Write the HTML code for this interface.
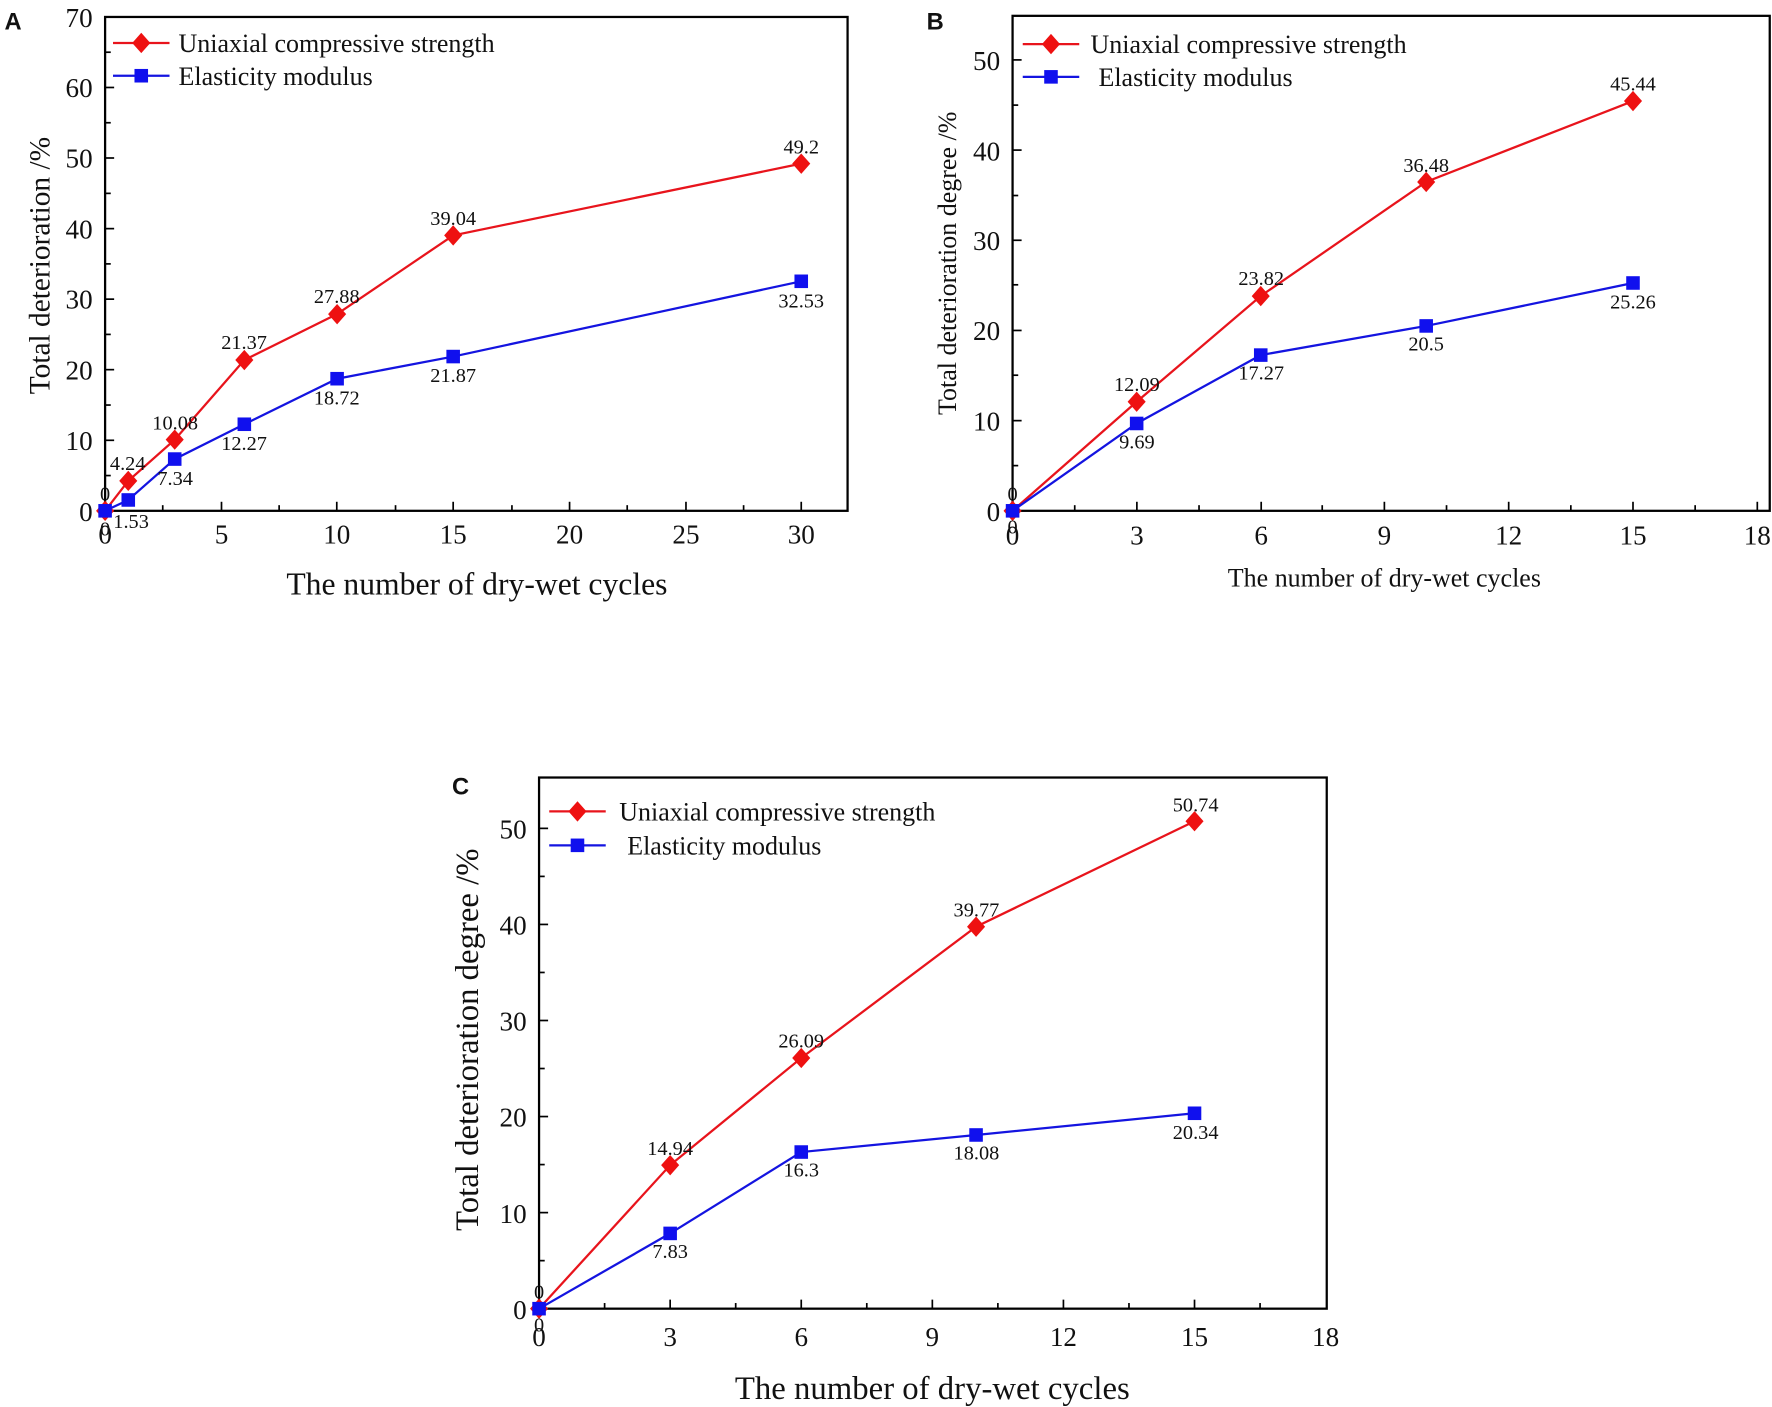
<!DOCTYPE html>
<html><head><meta charset="utf-8"><style>
html,body{margin:0;padding:0;background:#fff;}
svg{display:block;}
text{font-family:"Liberation Serif",serif;fill:#111;}
.l{font-size:18px;text-anchor:middle;}
.ty{font-size:24px;text-anchor:end;}
.tx{font-size:24px;text-anchor:middle;}
.lg{font-size:23px;}
.p{font-family:"Liberation Sans",sans-serif;font-weight:bold;font-size:21px;}
</style></head><body>
<svg width="1772" height="1407" viewBox="0 0 1568 1245" xmlns="http://www.w3.org/2000/svg">
<rect width="1568" height="1245" fill="#fff"/>

<!-- ============ A ============ -->
<text class="p" x="4" y="26">A</text>
<rect x="93" y="15" width="657" height="437" fill="none" stroke="#000" stroke-width="2"/>
<g stroke="#000" stroke-width="1.5">
<line x1="196" y1="452" x2="196" y2="444"/><line x1="298" y1="452" x2="298" y2="444"/><line x1="401" y1="452" x2="401" y2="444"/><line x1="504" y1="452" x2="504" y2="444"/><line x1="607" y1="452" x2="607" y2="444"/><line x1="709" y1="452" x2="709" y2="444"/>
<line x1="144" y1="452" x2="144" y2="447"/><line x1="247" y1="452" x2="247" y2="447"/><line x1="350" y1="452" x2="350" y2="447"/><line x1="453" y1="452" x2="453" y2="447"/><line x1="555" y1="452" x2="555" y2="447"/><line x1="658" y1="452" x2="658" y2="447"/>
<line x1="93" y1="389.6" x2="101" y2="389.6"/><line x1="93" y1="327.1" x2="101" y2="327.1"/><line x1="93" y1="264.7" x2="101" y2="264.7"/><line x1="93" y1="202.3" x2="101" y2="202.3"/><line x1="93" y1="139.8" x2="101" y2="139.8"/><line x1="93" y1="77.4" x2="101" y2="77.4"/>
<line x1="93" y1="420.8" x2="98" y2="420.8"/><line x1="93" y1="358.4" x2="98" y2="358.4"/><line x1="93" y1="295.9" x2="98" y2="295.9"/><line x1="93" y1="233.5" x2="98" y2="233.5"/><line x1="93" y1="171.1" x2="98" y2="171.1"/><line x1="93" y1="108.6" x2="98" y2="108.6"/><line x1="93" y1="46.2" x2="98" y2="46.2"/>
</g>
<text class="ty" x="82" y="461">0</text><text class="ty" x="82" y="398">10</text><text class="ty" x="82" y="336">20</text><text class="ty" x="82" y="273">30</text><text class="ty" x="82" y="211">40</text><text class="ty" x="82" y="148">50</text><text class="ty" x="82" y="86">60</text><text class="ty" x="82" y="24">70</text>
<text class="tx" x="93" y="481">0</text><text class="tx" x="196" y="481">5</text><text class="tx" x="298" y="481">10</text><text class="tx" x="401" y="481">15</text><text class="tx" x="504" y="481">20</text><text class="tx" x="607" y="481">25</text><text class="tx" x="709" y="481">30</text>
<text x="422" y="526" style="font-size:28px;text-anchor:middle">The number of dry-wet cycles</text>
<text transform="translate(44,235) rotate(-90)" style="font-size:26px;text-anchor:middle">Total deterioration /%</text>
<polyline points="93,452 113.5,425.5 154.6,389.1 216.2,318.6 298.3,277.9 401,208.3 709,144.8" fill="none" stroke="#e8141c" stroke-width="2"/>
<polyline points="93,452 113.5,442.4 154.6,406.2 216.2,375.4 298.3,335.1 401,315.5 709,248.9" fill="none" stroke="#1414e0" stroke-width="2"/>
<g fill="#ee1111">
<polygon points="93,443 101,452 93,461 85,452"/><polygon points="113.5,416.5 121.5,425.5 113.5,434.5 105.5,425.5"/><polygon points="154.6,380 162.6,389 154.6,398 146.6,389"/><polygon points="216.2,309.6 224.2,318.6 216.2,327.6 208.2,318.6"/><polygon points="298.3,269 306.3,278 298.3,287 290.3,278"/><polygon points="401,199.3 409,208.3 401,217.3 393,208.3"/><polygon points="709,135.8 717,144.8 709,153.8 701,144.8"/>
</g>
<g fill="#1010ee">
<rect x="87" y="446" width="12" height="12"/><rect x="107.5" y="436.4" width="12" height="12"/><rect x="148.6" y="400.2" width="12" height="12"/><rect x="210.2" y="369.4" width="12" height="12"/><rect x="292.3" y="329.1" width="12" height="12"/><rect x="395" y="309.5" width="12" height="12"/><rect x="703" y="242.9" width="12" height="12"/>
</g>
<text class="l" x="93" y="443">0</text><text class="l" x="93" y="474">0</text><text class="l" x="116" y="467">1.53</text><text class="l" x="113" y="416">4.24</text><text class="l" x="155" y="380">10.08</text><text class="l" x="155" y="429">7.34</text><text class="l" x="216" y="309">21.37</text><text class="l" x="216" y="398">12.27</text><text class="l" x="298" y="268">27.88</text><text class="l" x="298" y="358">18.72</text><text class="l" x="401" y="199">39.04</text><text class="l" x="401" y="338">21.87</text><text class="l" x="709" y="136">49.2</text><text class="l" x="709" y="272">32.53</text>
<line x1="100" y1="38" x2="150" y2="38" stroke="#e8141c" stroke-width="2"/><polygon points="125,29 133,38 125,47 117,38" fill="#ee1111"/>
<text class="lg" x="158" y="46">Uniaxial compressive strength</text>
<line x1="100" y1="67" x2="150" y2="67" stroke="#1414e0" stroke-width="2"/><rect x="119" y="61" width="12" height="12" fill="#1010ee"/>
<text class="lg" x="158" y="75">Elasticity modulus</text>

<!-- ============ B ============ -->
<text class="p" x="820" y="26">B</text>
<rect x="896" y="14" width="670" height="438" fill="none" stroke="#000" stroke-width="2"/>
<g stroke="#000" stroke-width="1.5">
<line x1="1006" y1="452" x2="1006" y2="444"/><line x1="1116" y1="452" x2="1116" y2="444"/><line x1="1225" y1="452" x2="1225" y2="444"/><line x1="1335" y1="452" x2="1335" y2="444"/><line x1="1445" y1="452" x2="1445" y2="444"/><line x1="1555" y1="452" x2="1555" y2="444"/>
<line x1="951" y1="452" x2="951" y2="447"/><line x1="1061" y1="452" x2="1061" y2="447"/><line x1="1170" y1="452" x2="1170" y2="447"/><line x1="1280" y1="452" x2="1280" y2="447"/><line x1="1390" y1="452" x2="1390" y2="447"/><line x1="1500" y1="452" x2="1500" y2="447"/>
<line x1="896" y1="372.2" x2="904" y2="372.2"/><line x1="896" y1="292.4" x2="904" y2="292.4"/><line x1="896" y1="212.6" x2="904" y2="212.6"/><line x1="896" y1="132.8" x2="904" y2="132.8"/><line x1="896" y1="53" x2="904" y2="53"/>
<line x1="896" y1="412" x2="901" y2="412"/><line x1="896" y1="332" x2="901" y2="332"/><line x1="896" y1="252" x2="901" y2="252"/><line x1="896" y1="173" x2="901" y2="173"/><line x1="896" y1="93" x2="901" y2="93"/>
</g>
<text class="ty" x="885" y="461">0</text><text class="ty" x="885" y="381">10</text><text class="ty" x="885" y="301">20</text><text class="ty" x="885" y="221">30</text><text class="ty" x="885" y="142">40</text><text class="ty" x="885" y="62">50</text>
<text class="tx" x="896" y="482">0</text><text class="tx" x="1006" y="482">3</text><text class="tx" x="1116" y="482">6</text><text class="tx" x="1225" y="482">9</text><text class="tx" x="1335" y="482">12</text><text class="tx" x="1445" y="482">15</text><text class="tx" x="1555" y="482">18</text>
<text x="1225" y="519" style="font-size:23px;text-anchor:middle">The number of dry-wet cycles</text>
<text transform="translate(846,233) rotate(-90)" style="font-size:23px;text-anchor:middle">Total deterioration degree /%</text>
<polyline points="896,452 1005.8,355.5 1115.6,261.9 1262,160.9 1445,89.4" fill="none" stroke="#e8141c" stroke-width="2"/>
<polyline points="896,452 1005.8,374.7 1115.6,314.2 1262,288.4 1445,250.4" fill="none" stroke="#1414e0" stroke-width="2"/>
<g fill="#ee1111">
<polygon points="896,443 904,452 896,461 888,452"/><polygon points="1005.8,346.5 1013.8,355.5 1005.8,364.5 997.8,355.5"/><polygon points="1115.6,253 1123.6,262 1115.6,271 1107.6,262"/><polygon points="1262,152 1270,161 1262,170 1254,161"/><polygon points="1445,80.4 1453,89.4 1445,98.4 1437,89.4"/>
</g>
<g fill="#1010ee">
<rect x="890" y="446" width="12" height="12"/><rect x="999.8" y="368.7" width="12" height="12"/><rect x="1109.6" y="308.2" width="12" height="12"/><rect x="1256" y="282.4" width="12" height="12"/><rect x="1439" y="244.4" width="12" height="12"/>
</g>
<text class="l" x="896" y="443">0</text><text class="l" x="896" y="472">0</text><text class="l" x="1006" y="346">12.09</text><text class="l" x="1006" y="397">9.69</text><text class="l" x="1116" y="252">23.82</text><text class="l" x="1116" y="336">17.27</text><text class="l" x="1262" y="152">36.48</text><text class="l" x="1262" y="310">20.5</text><text class="l" x="1445" y="80">45.44</text><text class="l" x="1445" y="273">25.26</text>
<line x1="905" y1="39" x2="955" y2="39" stroke="#e8141c" stroke-width="2"/><polygon points="930,30 938,39 930,48 922,39" fill="#ee1111"/>
<text class="lg" x="965" y="47">Uniaxial compressive strength</text>
<line x1="905" y1="68" x2="955" y2="68" stroke="#1414e0" stroke-width="2"/><rect x="924" y="62" width="12" height="12" fill="#1010ee"/>
<text class="lg" x="972" y="76">Elasticity modulus</text>

<!-- ============ C ============ -->
<text class="p" x="400" y="703">C</text>
<rect x="477" y="688" width="697" height="470" fill="none" stroke="#000" stroke-width="2"/>
<g stroke="#000" stroke-width="1.5">
<line x1="593" y1="1158" x2="593" y2="1150"/><line x1="709" y1="1158" x2="709" y2="1150"/><line x1="825" y1="1158" x2="825" y2="1150"/><line x1="941" y1="1158" x2="941" y2="1150"/><line x1="1057" y1="1158" x2="1057" y2="1150"/>
<line x1="535" y1="1158" x2="535" y2="1153"/><line x1="651" y1="1158" x2="651" y2="1153"/><line x1="767" y1="1158" x2="767" y2="1153"/><line x1="883" y1="1158" x2="883" y2="1153"/><line x1="999" y1="1158" x2="999" y2="1153"/><line x1="1115" y1="1158" x2="1115" y2="1153"/>
<line x1="477" y1="1073" x2="485" y2="1073"/><line x1="477" y1="988" x2="485" y2="988"/><line x1="477" y1="903" x2="485" y2="903"/><line x1="477" y1="818" x2="485" y2="818"/><line x1="477" y1="733" x2="485" y2="733"/>
<line x1="477" y1="1115.5" x2="482" y2="1115.5"/><line x1="477" y1="1030.5" x2="482" y2="1030.5"/><line x1="477" y1="945.5" x2="482" y2="945.5"/><line x1="477" y1="860.5" x2="482" y2="860.5"/><line x1="477" y1="775.5" x2="482" y2="775.5"/>
</g>
<text class="ty" x="466" y="1167">0</text><text class="ty" x="466" y="1082">10</text><text class="ty" x="466" y="997">20</text><text class="ty" x="466" y="912">30</text><text class="ty" x="466" y="827">40</text><text class="ty" x="466" y="742">50</text>
<text class="tx" x="477" y="1191">0</text><text class="tx" x="593" y="1191">3</text><text class="tx" x="709" y="1191">6</text><text class="tx" x="825" y="1191">9</text><text class="tx" x="941" y="1191">12</text><text class="tx" x="1057" y="1191">15</text><text class="tx" x="1173" y="1191">18</text>
<text x="825" y="1238" style="font-size:29px;text-anchor:middle">The number of dry-wet cycles</text>
<text transform="translate(423,920) rotate(-90)" style="font-size:29px;text-anchor:middle">Total deterioration degree /%</text>
<polyline points="477,1158 593,1031 709,936.2 863.7,820 1057,726.7" fill="none" stroke="#e8141c" stroke-width="2"/>
<polyline points="477,1158 593,1091.4 709,1019.4 863.7,1004.3 1057,985.1" fill="none" stroke="#1414e0" stroke-width="2"/>
<g fill="#ee1111">
<polygon points="477,1149 485,1158 477,1167 469,1158"/><polygon points="593,1022 601,1031 593,1040 585,1031"/><polygon points="709,927.2 717,936.2 709,945.2 701,936.2"/><polygon points="863.7,811 871.7,820 863.7,829 855.7,820"/><polygon points="1057,717.7 1065,726.7 1057,735.7 1049,726.7"/>
</g>
<g fill="#1010ee">
<rect x="471" y="1152" width="12" height="12"/><rect x="587" y="1085.4" width="12" height="12"/><rect x="703" y="1013.4" width="12" height="12"/><rect x="857.7" y="998.3" width="12" height="12"/><rect x="1051" y="979.1" width="12" height="12"/>
</g>
<text class="l" x="477" y="1149">0</text><text class="l" x="477" y="1178">0</text><text class="l" x="593" y="1022">14.94</text><text class="l" x="593" y="1113">7.83</text><text class="l" x="709" y="927">26.09</text><text class="l" x="709" y="1041">16.3</text><text class="l" x="864" y="811">39.77</text><text class="l" x="864" y="1026">18.08</text><text class="l" x="1058" y="718">50.74</text><text class="l" x="1058" y="1008">20.34</text>
<line x1="486" y1="718" x2="536" y2="718" stroke="#e8141c" stroke-width="2"/><polygon points="511,709 519,718 511,727 503,718" fill="#ee1111"/>
<text class="lg" x="548" y="726">Uniaxial compressive strength</text>
<line x1="486" y1="748" x2="536" y2="748" stroke="#1414e0" stroke-width="2"/><rect x="505" y="742" width="12" height="12" fill="#1010ee"/>
<text class="lg" x="555" y="756">Elasticity modulus</text>
</svg>
</body></html>
